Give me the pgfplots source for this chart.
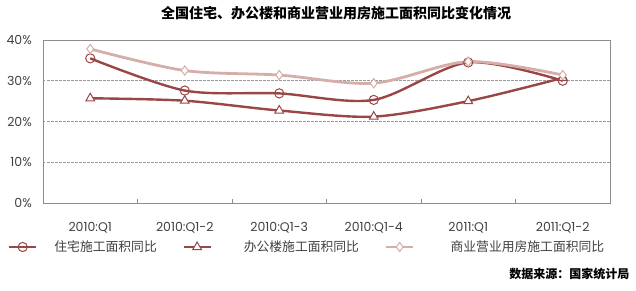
\documentclass[border=0pt]{standalone}
\usepackage{fontspec}
\setmainfont{Noto Sans CJK SC}
\newfontfamily\tickfont{Poppins}
\usepackage{pgfplots}
\pgfplotsset{compat=1.18}
\definecolor{darkred}{HTML}{9A4646}
\definecolor{lightred}{HTML}{D4AEA7}
\definecolor{txt}{HTML}{404040}
\definecolor{frame}{HTML}{8C8C8C}
\begin{document}
\begin{tikzpicture}
\begin{axis}[
  at={(0,0)}, anchor=south west,
  scale only axis, width=567pt, height=163pt,
  xmin=-0.5, xmax=5.5, ymin=0, ymax=40,
  axis line style={frame, line width=0.9pt},
  xtick={0,...,5},
  xticklabels={2010:Q1,2010:Q1-2,2010:Q1-3,2010:Q1-4,2011:Q1,2011:Q1-2},
  major x tick style={draw=none},
  minor xtick={0.5,1.5,2.5,3.5,4.5},
  minor x tick style={frame, line width=0.8pt},
  minor tick length=4pt,
  tick align=inside,
  xtick pos=bottom,
  ytick={0,10,20,30,40},
  yticklabels={0\%,10\%,20\%,30\%,40\%},
  major y tick style={draw=none},
  ymajorgrids,
  grid style={gray!80, dash pattern=on 2.5pt off 1.5pt, line width=0.6pt},
  xticklabel style={font=\tickfont\fontsize{12.5}{14}\selectfont, text=txt, anchor=base, yshift=-28pt},
  yticklabel style={font=\tickfont\fontsize{12.5}{14}\selectfont, text=txt, inner sep=0pt, xshift=-11pt},
  legend columns=3,
  legend cell align=left,
  legend style={at={(-0.0617,-0.27)}, anchor=west, draw=none, fill=none,
    inner sep=0pt, outer sep=0pt, column sep=0pt,
    nodes={inner sep=0pt, text=txt},
    font=\fontsize{12.8}{14}\selectfont},
  legend image code/.code={\draw[#1, mark repeat=2, mark phase=2] plot coordinates {(0pt,0pt)(13.5pt,0pt)(27pt,0pt)};},
  clip=false,
]
\addplot[darkred, line width=2.4pt, smooth, tension=0.5, mark=o,
  mark options={solid, fill=white, line width=1pt, draw=darkred}, mark size=4.6pt]
  coordinates {(0,35.5)(1,27.6)(2,26.9)(3,25.3)(4,34.5)(5,30.0)};
\addlegendentry{\makebox[145pt][l]{\hspace{17pt}住宅施工面积同比}}
\addplot[darkred, line width=2.4pt, smooth, tension=0.5, mark=triangle*,
  mark options={solid, fill=white, line width=1pt, draw=darkred}, mark size=5pt]
  coordinates {(0,25.7)(1,25.1)(2,22.7)(3,21.2)(4,25.0)(5,30.7)};
\addlegendentry{\makebox[173pt][l]{\hspace{32pt}办公楼施工面积同比}}
\addplot[lightred, line width=2.8pt, smooth, tension=0.5, mark=diamond*,
  mark options={solid, fill=white, line width=1pt, draw=lightred}, mark size=4.6pt]
  coordinates {(0,37.8)(1,32.5)(2,31.4)(3,29.4)(4,34.7)(5,31.4)};
\addlegendentry{\makebox[190pt][l]{\hspace{36pt}商业营业用房施工面积同比}}
\node[font=\bfseries\fontsize{14}{16}\selectfont, anchor=center] at (axis description cs:0.517,1.1656) {全国住宅、办公楼和商业营业用房施工面积同比变化情况};
\node[font=\bfseries\fontsize{12}{14}\selectfont, anchor=east] at (axis description cs:1.0406,-0.4356) {数据来源：国家统计局};
\end{axis}
\pgfresetboundingbox
\path[use as bounding box] (-43pt,-87pt) rectangle (593pt,203pt);
\end{tikzpicture}
\end{document}
